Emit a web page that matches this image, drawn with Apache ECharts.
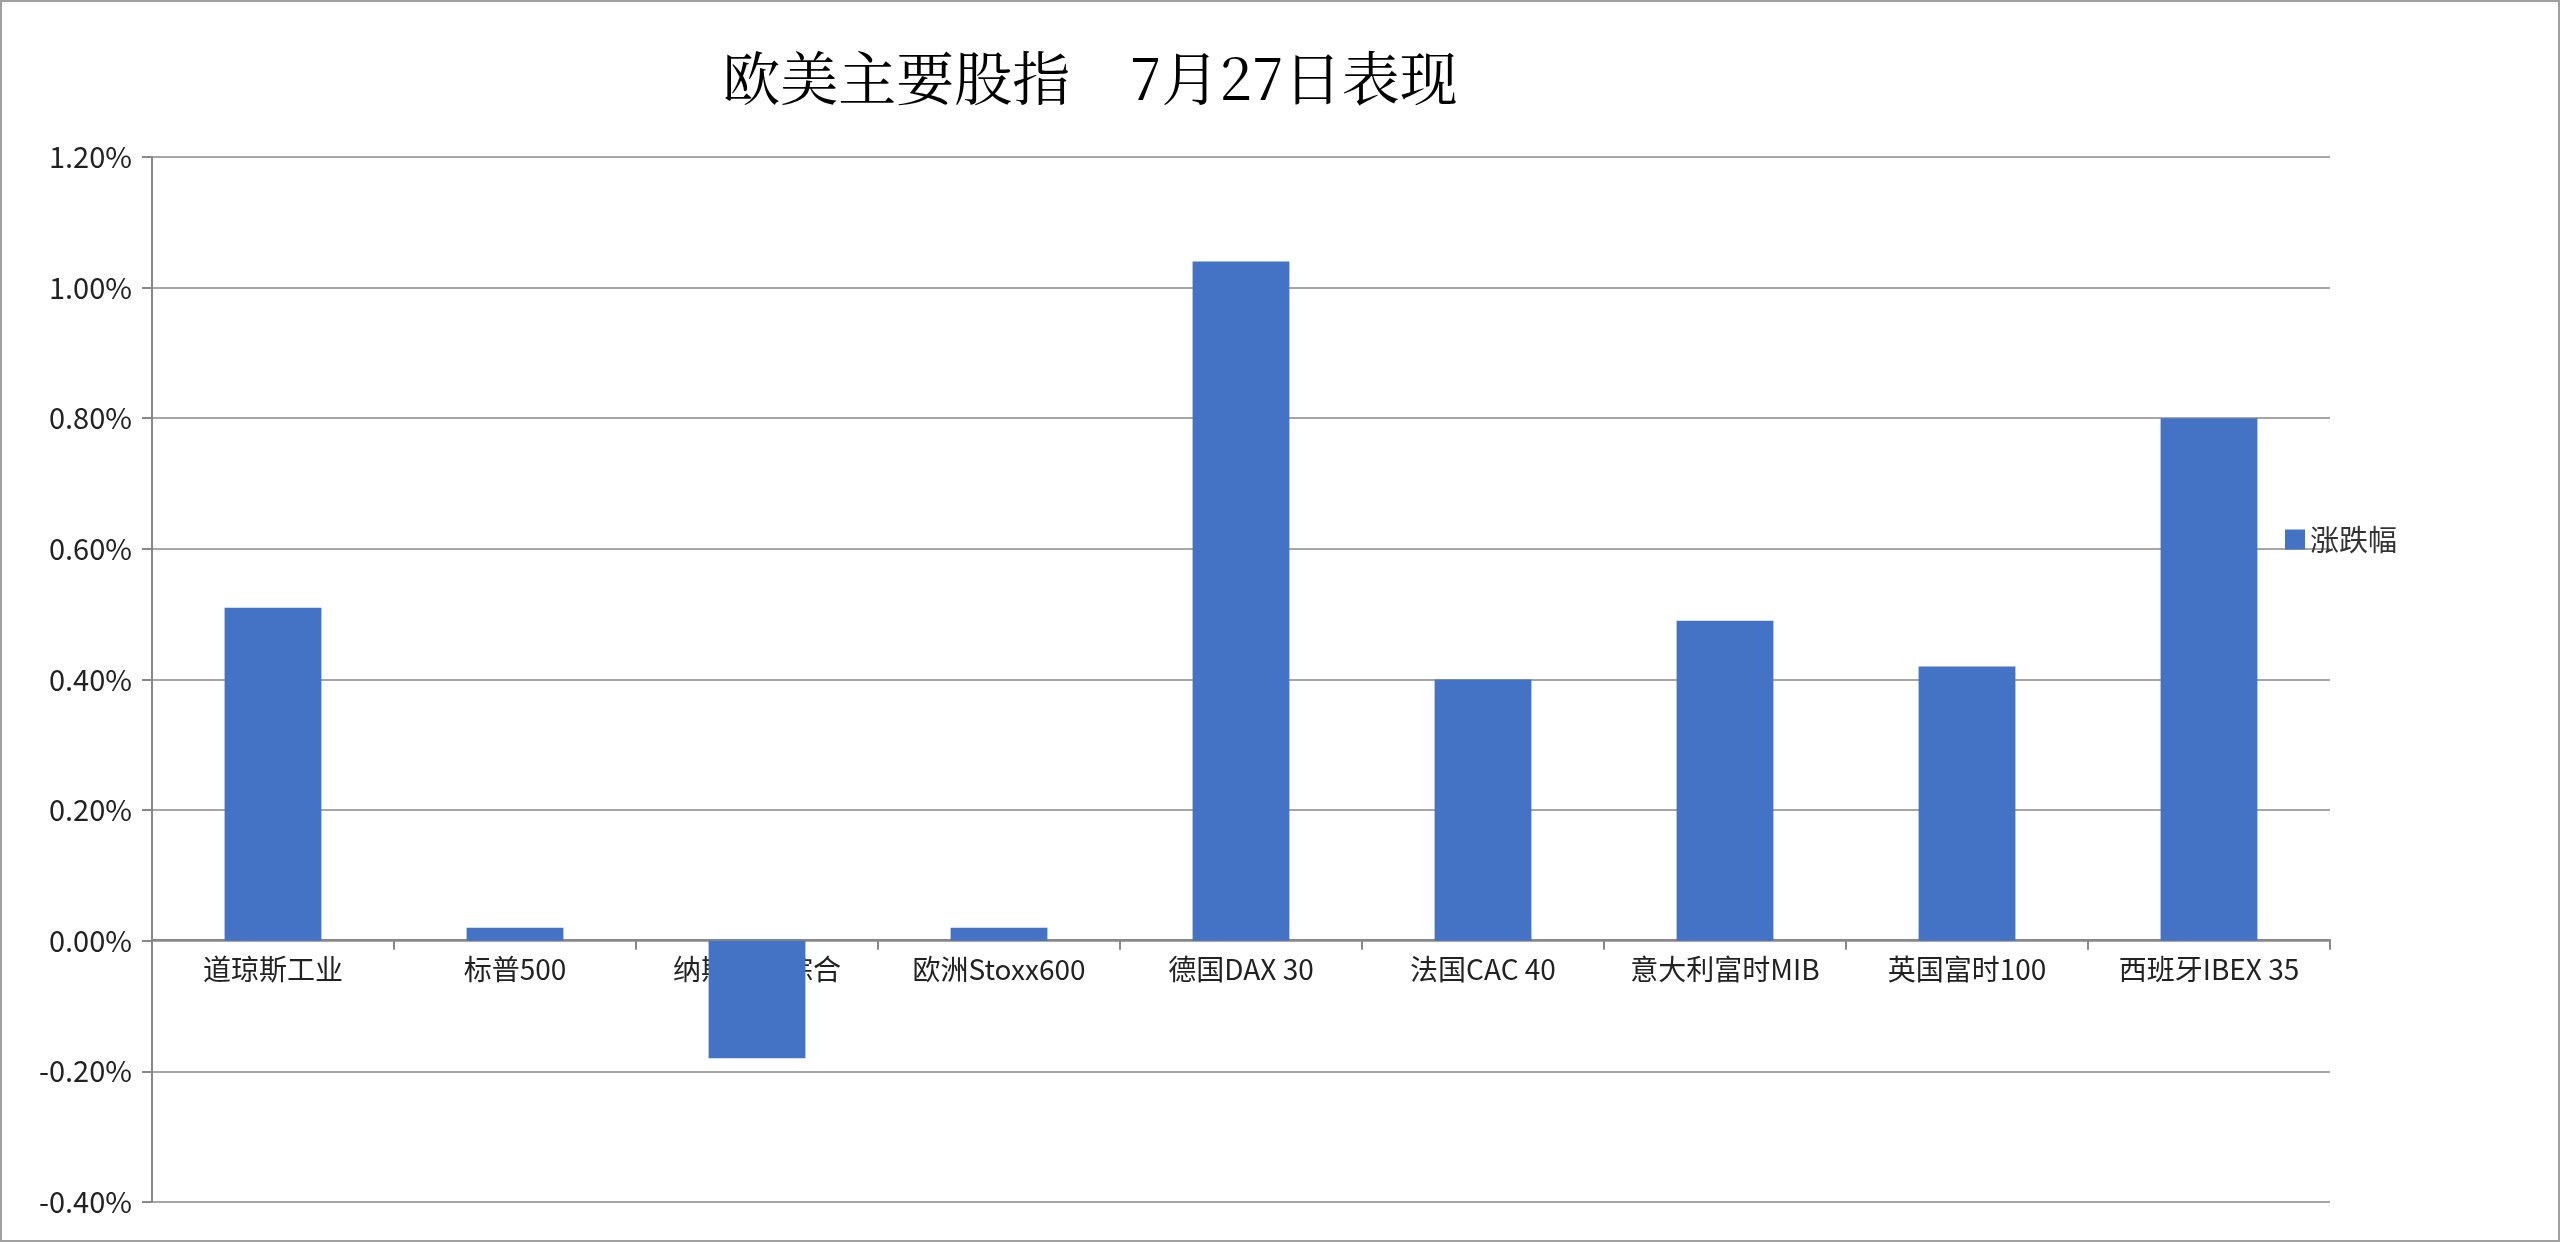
<!DOCTYPE html>
<html><head><meta charset="utf-8">
<script src="https://cdn.jsdelivr.net/npm/echarts@6/dist/echarts.min.js"></script>
<style>html,body{margin:0;padding:0;background:#fff}#c{width:2560px;height:1242px;box-sizing:border-box;border:2px solid #a0a0a0}</style>
</head><body><div id="c"></div>
<script>
const categories=['道琼斯工业','标普500','纳斯达克综合','欧洲Stoxx600','德国DAX 30','法国CAC 40','意大利富时MIB','英国富时100','西班牙IBEX 35'];
const values=[0.51,0.02,-0.18,0.02,1.04,0.40,0.49,0.42,0.80];
const seriesName='涨跌幅';
const chart=echarts.init(document.getElementById('c'));
const font='"Noto Sans CJK SC","Noto Sans",sans-serif';
const gridTop=155,gridBottom=38,H=1242;
const zeroOffset=(H-gridTop-gridBottom)*0.25;
chart.setOption({
 animation:false,
 title:{text:'欧美主要股指    7月27日表现',left:1083,top:42,textAlign:'center',textStyle:{fontSize:58,fontWeight:'normal',color:'#000',fontFamily:'"Noto Serif CJK SC","Noto Sans CJK SC",serif'}},
 legend:{left:2278,top:518,itemWidth:20,itemHeight:20,icon:'rect',textStyle:{fontSize:29,color:'#333',fontFamily:font},data:[seriesName]},
 grid:{left:150,right:228,top:gridTop,bottom:gridBottom},
 xAxis:{type:'category',data:categories,position:'bottom',offset:-zeroOffset,axisLine:{onZero:false,lineStyle:{color:'#888',width:2}},axisTick:{show:true,length:10,lineStyle:{color:'#888',width:2}},axisLabel:{interval:0,fontSize:28,color:'#222',fontFamily:font,margin:16}},
 yAxis:{type:'value',min:-0.4,max:1.2,interval:0.2,axisLine:{show:true,lineStyle:{color:'#888',width:2}},axisTick:{show:true,length:10,lineStyle:{color:'#888',width:2}},splitLine:{lineStyle:{color:'#888',width:1.5}},axisLabel:{fontSize:29,color:'#222',fontFamily:font,margin:20,formatter:v=>v.toFixed(2)+'%'}},
 series:[{name:seriesName,type:'bar',data:values,barWidth:'40%',itemStyle:{color:'#4472C4'}}]
});
</script></body></html>
